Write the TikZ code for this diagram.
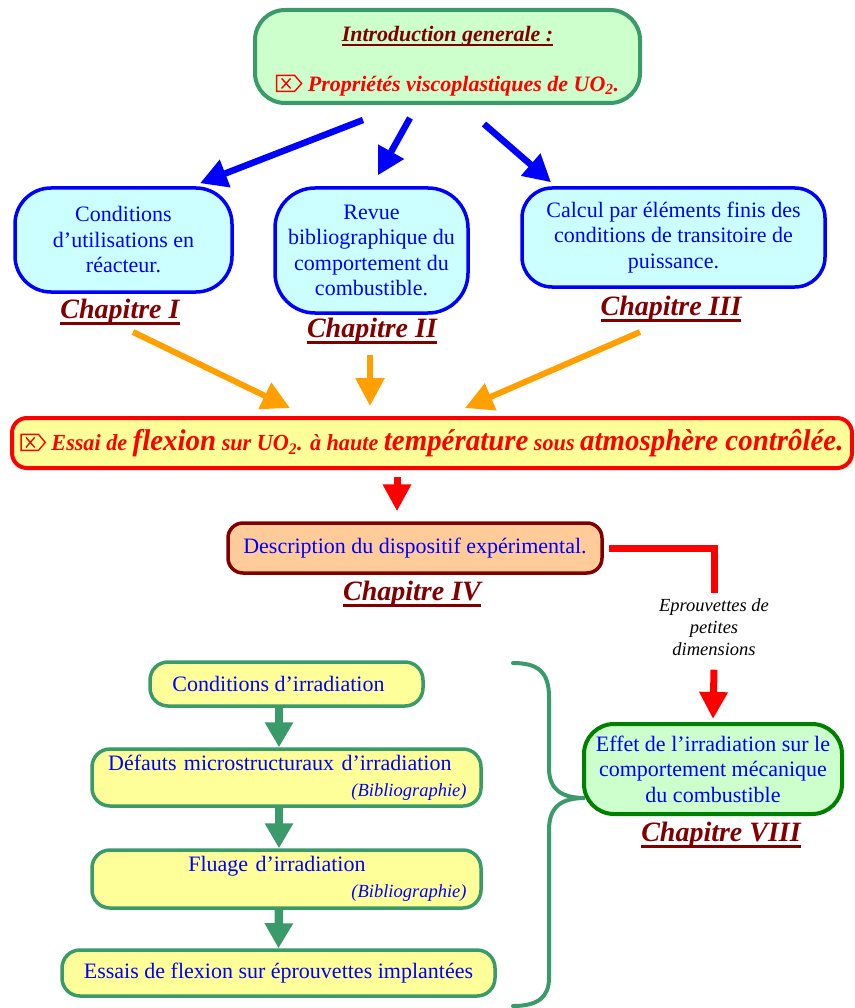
\documentclass[tikz,border=0pt]{standalone}
\usepackage{fontspec}
\setmainfont{Liberation Serif}
\usepackage{graphicx}
\usetikzlibrary{arrows.meta,positioning}
\definecolor{leaf}{HTML}{3A9A6A}
\definecolor{maroon}{HTML}{800000}
\definecolor{mint}{HTML}{CCFFCC}
\definecolor{aqua}{HTML}{CCFFFF}
\definecolor{butter}{HTML}{FFFF99}
\definecolor{peach}{HTML}{FFCC99}
\definecolor{amber}{HTML}{FF9F00}
\definecolor{forest}{HTML}{008000}
\definecolor{textblue}{HTML}{0000FF}
\definecolor{signal}{HTML}{FF0000}
\newcommand\bodyfont{\fontsize{22}{25.5}\selectfont}
\newcommand\chapfont{\fontsize{28}{30}\selectfont\bfseries\itshape}
\newcommand\notefont{\fontsize{18.5}{22}\selectfont\itshape}
\newcommand\biblfont{\fontsize{18.5}{20}\selectfont\itshape}
\newcommand\bigflex{\fontsize{30}{30}\selectfont}
\newcommand\thickul[1]{\setbox0\hbox{#1}\rlap{\rule[-6pt]{\wd0}{2.4pt}}\box0}
\newcommand\thinul[1]{\setbox0\hbox{#1}\rlap{\rule[-4pt]{\wd0}{1.6pt}}\box0}
% wingdings-like tag with a cross
\newcommand\boxedx{\tikz[x=1pt,y=1pt,baseline=0pt,sharp corners]{%
  \path[draw=signal,fill=none,line width=1.4pt,line join=miter]
    (0,0) -- (18,0) -- (25,8) -- (18,16) -- (0,16) -- cycle;
  \path[draw=signal,fill=none,line width=1.4pt] (5,3) -- (14,13) (5,13) -- (14,3);}}
\tikzset{
  panel/.style={line width=3.5pt, align=center, inner sep=0pt, text=textblue, font=\bodyfont},
  introbox/.style={panel, draw=leaf, fill=mint, rounded corners=30pt, line width=4pt},
  chapbox/.style={panel, draw=textblue, fill=aqua},
  flexbox/.style={panel, draw=signal, fill=butter, rounded corners=15pt, line width=4pt, text=signal},
  descbox/.style={panel, draw=maroon, fill=peach, rounded corners=15pt},
  effetbox/.style={panel, draw=forest, fill=mint, rounded corners=30pt, line width=4pt},
  irrbox/.style={panel, draw=leaf, fill=butter, rounded corners=18pt},
  chaplabel/.style={font=\chapfont, text=maroon, inner sep=0pt},
  sidenote/.style={font=\notefont, align=center, inner sep=2pt},
  bluearrow/.style={-{Triangle[length=27pt,width=28pt]}, line width=6.5pt, draw=textblue},
  orangearrow/.style={-{Triangle[length=28pt,width=28pt]}, line width=6pt, draw=amber},
  redarrow/.style={-{Triangle[length=27pt,width=27pt,fill=signal]}, line width=7pt, draw=signal},
  redline/.style={line width=7pt, draw=signal, line join=miter},
  greenarrow/.style={-{Triangle[length=25pt,width=27pt]}, line width=8.5pt, draw=leaf},
  bracepath/.style={line width=4pt, draw=leaf, line cap=round}
}
\begin{document}
\begin{tikzpicture}[x=1pt,y=-1pt]
  \useasboundingbox (0,0) rectangle (854,1008);
  % top
  \node[introbox, minimum width=385pt, minimum height=93pt] (intro) at (447.5,56.5)
    {\rule{0pt}{25pt}{\bfseries\itshape\color{maroon}\thinul{Introduction generale :}}\\[24pt]
     {\bfseries\itshape\color{signal}\boxedx\ Propriétés viscoplastiques de UO\textsubscript{2}.}};
  % three first chapters
  \node[chapbox, minimum width=217pt, minimum height=104pt, rounded corners=36pt] (util) at (123.5,240)
    {Conditions\\d’utilisations en\\réacteur.};
  \node[chapbox, minimum width=193pt, minimum height=125pt, rounded corners=40pt] (revue) at (371.5,250.5)
    {Revue\\bibliographique du\\comportement du\\combustible.};
  \node[chapbox, minimum width=303pt, minimum height=99pt, rounded corners=30pt] (calcul) at (673.5,237.5)
    {Calcul par éléments finis des\\conditions de transitoire de\\puissance.};
  \node[chaplabel] (chapI) at (120,312) {\thickul{Chapitre I}};
  \node[chaplabel] (chapII) at (372,331) {\thickul{Chapitre II}};
  \node[chaplabel] (chapIII) at (671,309) {\thickul{Chapitre III}};
  \draw[bluearrow] ([shift={(-84.5,15)}]intro.south) -- ([shift={(76.5,-3)}]util.north);
  \draw[bluearrow] ([shift={(-37.5,13)}]intro.south) -- ([shift={(6.5,-11)}]revue.north);
  \draw[bluearrow] ([shift={(36.5,19)}]intro.south) -- ([shift={(-122.5,-4)}]calcul.north);
  % bending test
  \node[flexbox, minimum width=840pt, minimum height=50pt] (essai) at (432,443)
    {\resizebox{823pt}{\height}{\bfseries\itshape\fontsize{23}{25}\selectfont
     \boxedx\ Essai de {\bigflex flexion} sur UO\textsubscript{2}. à haute
     {\bigflex température} sous {\bigflex atmosphère contrôlée.}}};
  \draw[orangearrow] ([shift={(13,20)}]chapI.center) -- ([shift={(-142,-8)}]essai.north);
  \draw[orangearrow] ([shift={(-2,24)}]chapII.center) -- ([shift={(-62,-10)}]essai.north);
  \draw[orangearrow] ([shift={(-31,23)}]chapIII.center) -- ([shift={(33,-8)}]essai.north);
  \node[descbox, minimum width=374pt, minimum height=50pt] (desc) at (415,548)
    {Description du dispositif expérimental.};
  \node[chaplabel] (chapIV) at (412,594) {\thickul{Chapitre IV}};
  \draw[redarrow] ([shift={(-35,7)}]essai.south) -- ([shift={(-18,-10)}]desc.north);
  % irradiation
  \node[sidenote] (petites) at (714,627) {Eprouvettes de\\petites\\dimensions};
  \node[effetbox, minimum width=258pt, minimum height=90pt] (effet) at (713,769)
    {Effet de l’irradiation sur le\\comportement mécanique\\du combustible};
  \node[chaplabel] (chapVIII) at (721,835) {\thickul{Chapitre VIII}};
  \draw[redline] ([shift={(5,0)}]desc.east) -| ([shift={(0,-3)}]petites.north);
  \draw[redarrow] ([shift={(0,12)}]petites.south) -- ([shift={(0,-3)}]effet.north);
  \node[irrbox, minimum width=273pt, minimum height=44pt] (irr1) at (286.5,684)
    {Conditions d’irradiation\hspace*{16pt}};
  \node[irrbox, minimum width=389pt, minimum height=57pt, text width=360pt, align=right] (irr2) at (286.5,777.5)
    {Défauts microstructuraux d’irradiation\rule{15pt}{0pt}\\{\biblfont (Bibliographie)}};
  \node[irrbox, minimum width=389pt, minimum height=58pt, text width=360pt, align=right] (irr3) at (286.5,879)
    {Fluage d’irradiation\rule{101pt}{0pt}\\{\biblfont (Bibliographie)}};
  \node[irrbox, minimum width=433pt, minimum height=46pt] (irr4) at (278.5,973)
    {Essais de flexion sur éprouvettes implantées};
  \draw[greenarrow] ([xshift=-7.5pt]irr1.south) -- ([xshift=-7.5pt]irr2.north);
  \draw[greenarrow] ([xshift=-7.5pt]irr2.south) -- ([xshift=-7.5pt]irr3.north);
  \draw[greenarrow] ([xshift=-7.5pt]irr3.south) -- ([xshift=0pt]irr4.north);
  % brace
  \draw[bracepath] (513,663) .. controls (538,663) and (549,672) .. (549,697)
    -- (549,768) .. controls (549,790) and (562,798) .. (585,798)
    .. controls (562,798) and (549,806) .. (549,830)
    -- (549,978) .. controls (549,997) and (538,1006) .. (513,1006);
\end{tikzpicture}
\end{document}
